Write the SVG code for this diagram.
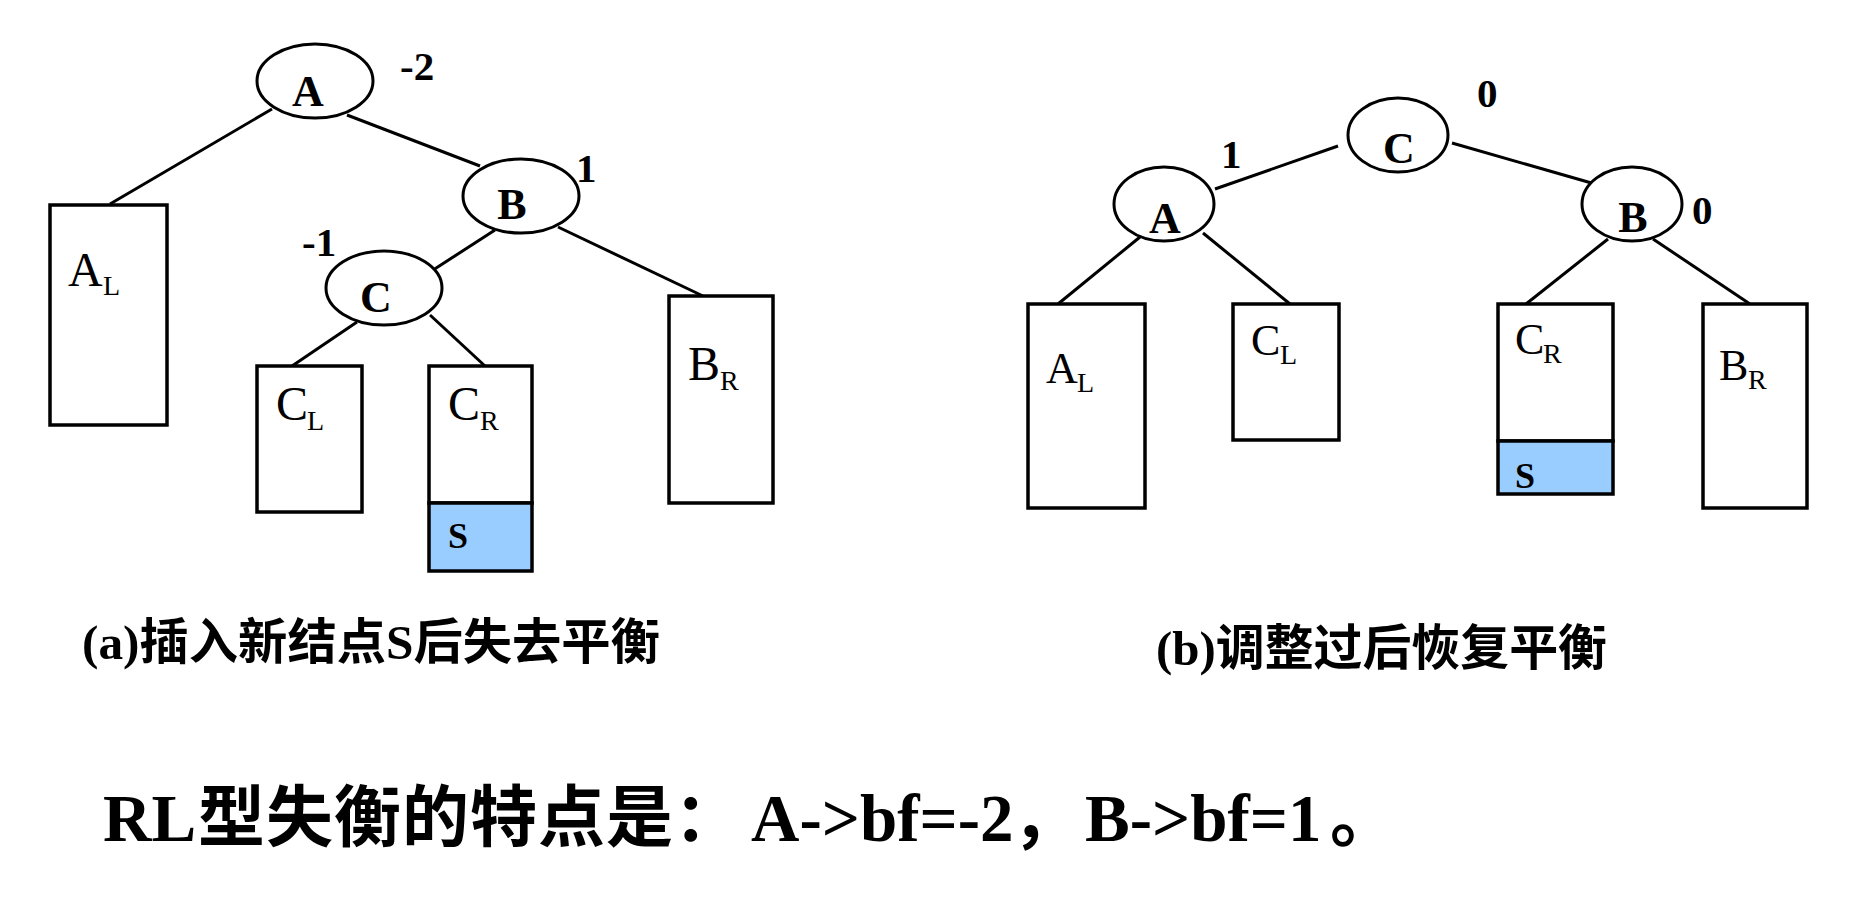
<svg xmlns="http://www.w3.org/2000/svg" width="1871" height="903" viewBox="0 0 1871 903">
<style>
.bg{fill:#fff}
.node{fill:#fff;stroke:#000;stroke-width:3}
.box{fill:#fff;stroke:#000;stroke-width:3.5}
.sbox{fill:#99CCFF;stroke:#000;stroke-width:3.5}
.edge{stroke:#000;stroke-width:3;fill:none}
.nl{font-family:"Liberation Serif","Times New Roman",serif;font-weight:bold;font-size:44px;fill:#000;text-anchor:middle}
.bf{font-family:"Liberation Serif","Times New Roman",serif;font-weight:bold;font-size:41px;fill:#000}
.tl{font-family:"Liberation Serif","Times New Roman",serif;font-size:48px;fill:#000}
.tr{font-family:"Liberation Serif","Times New Roman",serif;font-size:44px;fill:#000}
.sub{font-size:28px}
.s{font-family:"Liberation Serif","Times New Roman",serif;font-weight:bold;font-size:36px;fill:#000}
.cap{font-family:"Liberation Serif","Noto Sans CJK SC",serif;font-weight:bold;font-size:49px;fill:#000}
.main{font-family:"Liberation Serif","Noto Sans CJK SC",serif;font-weight:bold;font-size:67px;fill:#000}
.cjk{font-family:"Noto Sans CJK SC","Liberation Serif",sans-serif}
</style>
<rect class="bg" x="0" y="0" width="1871" height="903"/>

<g id="connectors">
  <line class="edge" x1="272" y1="109" x2="110" y2="204"/>
  <line class="edge" x1="347" y1="115" x2="480" y2="166"/>
  <line class="edge" x1="495" y1="230" x2="430" y2="272"/>
  <line class="edge" x1="558" y1="227" x2="703" y2="296"/>
  <line class="edge" x1="357" y1="322" x2="292" y2="366"/>
  <line class="edge" x1="430" y1="315" x2="485" y2="366"/>
  <line class="edge" x1="1338" y1="146" x2="1215" y2="189"/>
  <line class="edge" x1="1452" y1="143" x2="1595" y2="184"/>
  <line class="edge" x1="1140" y1="237" x2="1058" y2="304"/>
  <line class="edge" x1="1203" y1="233" x2="1290" y2="304"/>
  <line class="edge" x1="1608" y1="239" x2="1526" y2="304"/>
  <line class="edge" x1="1653" y1="239" x2="1750" y2="304"/>
</g>

<!-- (a) tree -->
<g id="a-node-A">
  <ellipse class="node" cx="315" cy="81" rx="58" ry="37"/>
  <text class="nl" x="308" y="106">A</text>
  <text class="bf" x="400" y="80">-2</text>
</g>
<g id="a-node-B">
  <ellipse class="node" cx="521" cy="196" rx="58" ry="37"/>
  <text class="nl" x="512" y="219">B</text>
  <text class="bf" x="576" y="182">1</text>
</g>
<g id="a-node-C">
  <ellipse class="node" cx="384" cy="288" rx="58" ry="37"/>
  <text class="nl" x="376" y="312">C</text>
  <text class="bf" x="302" y="256">-1</text>
</g>
<g id="a-AL">
  <rect class="box" x="50" y="205" width="117" height="220"/>
  <text class="tl" x="68" y="286">A<tspan class="sub" x="103" y="295">L</tspan></text>
</g>
<g id="a-CL">
  <rect class="box" x="257" y="366" width="105" height="146"/>
  <text class="tl" x="276" y="420">C<tspan class="sub" x="307" y="430">L</tspan></text>
</g>
<g id="a-CR">
  <rect class="box" x="429" y="366" width="103" height="137"/>
  <text class="tl" x="448" y="420">C<tspan class="sub" x="480" y="430">R</tspan></text>
</g>
<g id="a-S">
  <rect class="sbox" x="429" y="503" width="103" height="68"/>
  <text class="s" x="448" y="548">S</text>
</g>
<g id="a-BR">
  <rect class="box" x="669" y="296" width="104" height="207"/>
  <text class="tl" x="688" y="380">B<tspan class="sub" x="720" y="390">R</tspan></text>
</g>

<!-- (b) tree -->
<g id="b-node-C">
  <ellipse class="node" cx="1398" cy="135" rx="50" ry="37"/>
  <text class="nl" x="1399" y="163">C</text>
  <text class="bf" x="1477" y="107">0</text>
</g>
<g id="b-node-A">
  <ellipse class="node" cx="1164" cy="204" rx="50" ry="37"/>
  <text class="nl" x="1165" y="233">A</text>
  <text class="bf" x="1221" y="168">1</text>
</g>
<g id="b-node-B">
  <ellipse class="node" cx="1632" cy="204" rx="50" ry="37"/>
  <text class="nl" x="1633" y="232">B</text>
  <text class="bf" x="1692" y="224">0</text>
</g>
<g id="b-AL">
  <rect class="box" x="1028" y="304" width="117" height="204"/>
  <text class="tr" x="1046" y="383">A<tspan class="sub" x="1077" y="392">L</tspan></text>
</g>
<g id="b-CL">
  <rect class="box" x="1233" y="304" width="106" height="136"/>
  <text class="tr" x="1251" y="355">C<tspan class="sub" x="1280" y="364">L</tspan></text>
</g>
<g id="b-CR">
  <rect class="box" x="1498" y="304" width="115" height="137"/>
  <text class="tr" x="1515" y="354">C<tspan class="sub" x="1543" y="363">R</tspan></text>
</g>
<g id="b-S">
  <rect class="sbox" x="1498" y="441" width="115" height="53"/>
  <text class="s" x="1515" y="488">S</text>
</g>
<g id="b-BR">
  <rect class="box" x="1703" y="304" width="104" height="204"/>
  <text class="tr" x="1719" y="380">B<tspan class="sub" x="1748" y="389">R</tspan></text>
</g>

<g id="captions">
  <text class="cap" x="82" y="659" textLength="578" lengthAdjust="spacingAndGlyphs">(a)<tspan class="cjk">插入新结点</tspan>S<tspan class="cjk">后失去平衡</tspan></text>
  <text class="cap" x="1156" y="665" textLength="451" lengthAdjust="spacingAndGlyphs">(b)<tspan class="cjk">调整过后恢复平衡</tspan></text>
</g>

<g id="summary">
  <text class="main" y="841"><tspan x="103">RL</tspan><tspan class="cjk" x="198" letter-spacing="1">型失衡的特点是：</tspan><tspan x="751">A-&gt;bf=-2</tspan><tspan class="cjk" x="1012">，</tspan><tspan x="1085">B-&gt;bf=1</tspan><tspan class="cjk" x="1330">。</tspan></text>
</g>
</svg>
